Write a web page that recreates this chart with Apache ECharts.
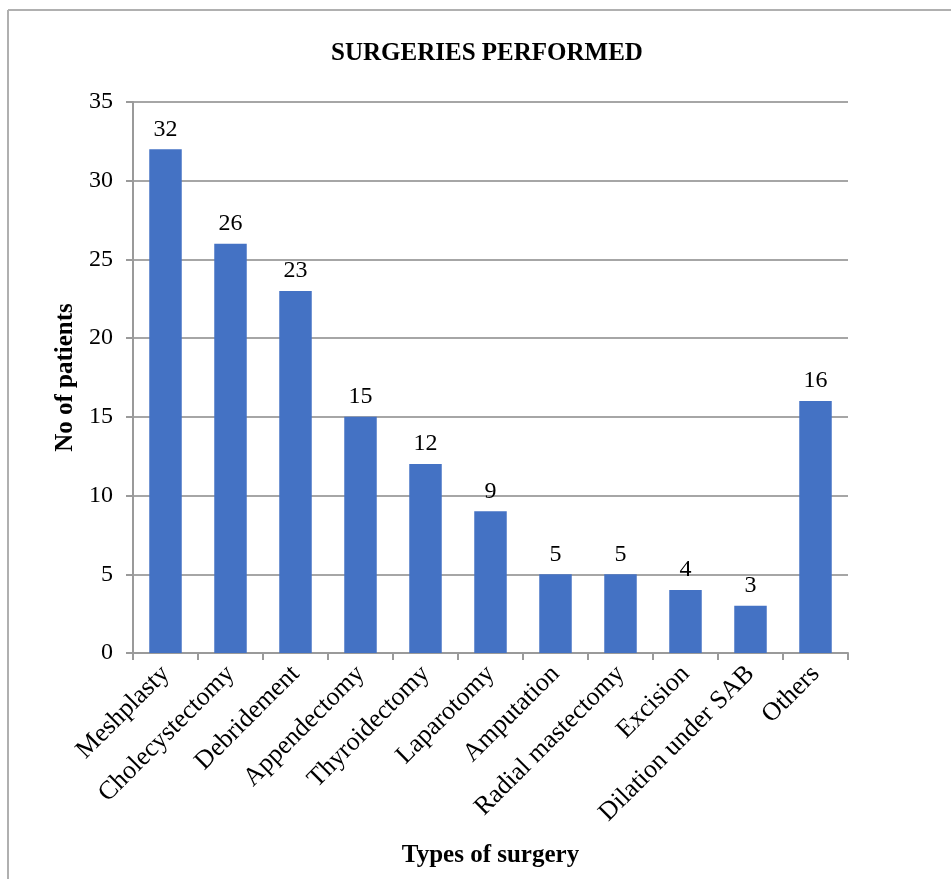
<!DOCTYPE html>
<html>
<head>
<meta charset="utf-8">
<title>Surgeries performed</title>
<script src="https://cdn.jsdelivr.net/npm/echarts@6/dist/echarts.min.js"></script>
<style>
  html, body { margin: 0; padding: 0; background: #fff; }
  #chart { width: 951px; height: 879px; }
</style>
</head>
<body>
<div id="chart"></div>
<script>
var surgeryTypes = ['Meshplasty', 'Cholecystectomy', 'Debridement', 'Appendectomy', 'Thyroidectomy',
  'Laparotomy', 'Amputation', 'Radial mastectomy', 'Excision', 'Dilation under SAB', 'Others']
var patientCounts = [32, 26, 23, 15, 12, 9, 5, 5, 4, 3, 16]
var yTicks = [0, 35, 5] // min, max, step

var serif = '"Liberation Serif", "DejaVu Serif", serif'
var myChart = echarts.init(document.getElementById('chart'))

var option = {
  animation: false,
  title: {
    text: 'SURGERIES PERFORMED',
    left: 482,
    textAlign: 'center',
    top: 36,
    textStyle: { fontFamily: serif, fontSize: 25, fontWeight: 'bold', color: '#000' }
  },
  // frame of the chart area (top and left edges only are visible)
  graphic: [
    { type: 'line', shape: { x1: 8, y1: 10, x2: 951, y2: 10 }, style: { stroke: '#b0b0b0', lineWidth: 2 } },
    { type: 'line', shape: { x1: 8, y1: 10, x2: 8, y2: 879 }, style: { stroke: '#b0b0b0', lineWidth: 2 } }
  ],
  grid: {
    left: 133,
    right: 103,
    top: 102,
    bottom: 226
  },
  xAxis: {
    type: 'category',
    data: surgeryTypes,
    name: 'Types of surgery',
    nameLocation: 'middle',
    nameGap: 190,
    nameTextStyle: { fontFamily: serif, fontSize: 25, fontWeight: 'bold', color: '#000' },
    axisLine: { lineStyle: { color: '#9a9a9a', width: 2 } },
    axisTick: { show: true, length: 7, lineStyle: { color: '#9a9a9a', width: 2 } },
    axisLabel: {
      rotate: 45,
      margin: 17,
      interval: 0,
      fontFamily: serif,
      fontSize: 26,
      color: '#000'
    }
  },
  yAxis: {
    type: 'value',
    min: yTicks[0],
    max: yTicks[1],
    interval: yTicks[2],
    name: 'No of patients',
    nameLocation: 'middle',
    nameGap: 53,
    nameTextStyle: { fontFamily: serif, fontSize: 25, fontWeight: 'bold', color: '#000' },
    axisLine: { show: true, lineStyle: { color: '#9a9a9a', width: 2 } },
    axisTick: { show: true, length: 7, lineStyle: { color: '#9a9a9a', width: 2 } },
    axisLabel: { margin: 20, fontFamily: serif, fontSize: 24, color: '#000' },
    splitLine: { lineStyle: { color: '#a6a6a6', width: 2 } }
  },
  series: [{
    name: 'No of patients',
    type: 'bar',
    data: patientCounts,
    barWidth: '50%',
    itemStyle: { color: '#4472c4' },
    label: {
      show: true,
      position: 'top',
      distance: 8,
      fontFamily: serif,
      fontSize: 24,
      color: '#000'
    }
  }]
}

myChart.setOption(option)
</script>
</body>
</html>
